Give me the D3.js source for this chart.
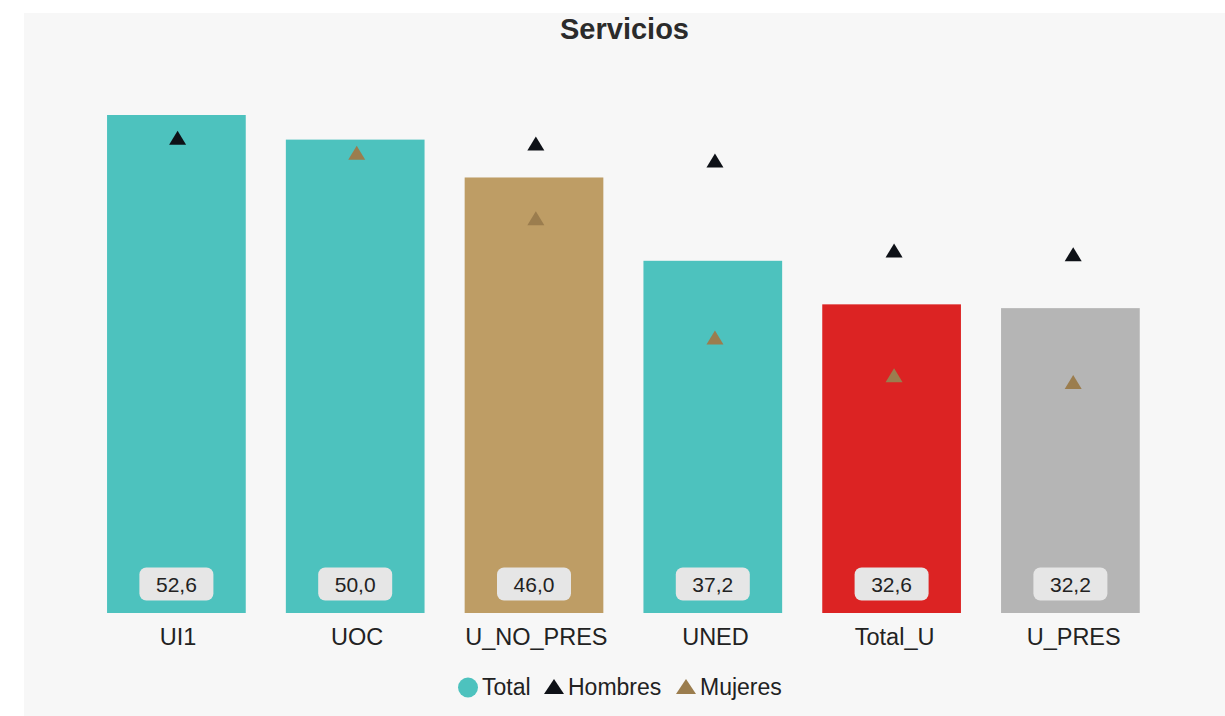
<!DOCTYPE html>
<html>
<head>
<meta charset="utf-8">
<script src="https://cdn.jsdelivr.net/npm/d3@7"></script>
<style>
html,body{margin:0;padding:0;background:#fff;}
svg{display:block;font-family:"Liberation Sans",Arial,sans-serif;}
</style>
</head>
<body>
<svg id="chart" width="1225" height="716"></svg>
<script>
const categories = ["UI1", "UOC", "U_NO_PRES", "UNED", "Total_U", "U_PRES"];
const totalValues = [52.6, 50.0, 46.0, 37.2, 32.6, 32.2];
const hombresValues = [50.2, null, 49.6, 47.8, 38.3, 37.9];
const mujeresValues = [null, 48.6, 41.7, 29.1, 25.1, 24.4];
const barColors = ["#4dc2be", "#4dc2be", "#be9d65", "#4dc2be", "#dc2323", "#b5b5b5"];
const legendLabels = ["Total", "Hombres", "Mujeres"];
const title = "Servicios";

const svg = d3.select("#chart");
const W = 1225, H = 716;

svg.append("rect").attr("x", 24).attr("y", 13).attr("width", W - 24).attr("height", H - 13).attr("fill", "#f7f7f7");

svg.append("text").attr("x", 624.5).attr("y", 38.5).attr("text-anchor", "middle")
  .attr("font-size", 29).attr("font-weight", "bold").attr("fill", "#2b2b2b").text(title);

const x = d3.scaleBand().domain(categories).range([87.0, 1159.8]).paddingInner(0.2243).paddingOuter(0.11215);
const xp = d3.scalePoint().domain(categories).range([177.6, 1073.2]);
const y = d3.scaleLinear().domain([0, 55]).range([613, 613 - 55 * 9.4677]);

const g = svg.append("g");
g.selectAll("rect.bar").data(categories).join("rect").attr("class", "bar")
  .attr("x", d => x(d)).attr("width", x.bandwidth())
  .attr("y", (d, i) => y(totalValues[i])).attr("height", (d, i) => y(0) - y(totalValues[i]))
  .attr("fill", (d, i) => barColors[i]);

// value labels
const lab = g.selectAll("g.lab").data(categories).join("g").attr("class", "lab")
  .attr("transform", d => `translate(${x(d) + x.bandwidth() / 2},${y(0) - 29})`);
lab.append("rect").attr("x", -37).attr("y", -16.5).attr("width", 74).attr("height", 33).attr("rx", 7).attr("fill", "#e6e6e6");
lab.append("text").attr("text-anchor", "middle").attr("y", 7.5).attr("font-size", 21).attr("fill", "#222")
  .text((d, i) => d3.format(".1f")(totalValues[i]).replace(".", ","));

// x axis labels
const xAxis = d3.axisBottom(xp).tickSize(0).tickPadding(0);
const ax = svg.append("g").attr("transform", `translate(0,${y(0)})`).call(xAxis);
ax.select(".domain").remove();
ax.selectAll("text").attr("font-size", 23.5).attr("fill", "#222").attr("font-family", "Liberation Sans, Arial, sans-serif")
  .attr("dy", 0).attr("y", 32);

function tri(w, h) { return `M0,${-h / 2}L${w / 2},${h / 2}L${-w / 2},${h / 2}Z`; }

const hIdx = categories.map((d, i) => i).filter(i => hombresValues[i] != null);
const mIdx = categories.map((d, i) => i).filter(i => mujeresValues[i] != null);
g.selectAll("path.h").data(hIdx).join("path").attr("class", "h")
  .attr("d", tri(17, 14)).attr("fill", "#0e1117")
  .attr("transform", i => `translate(${xp(categories[i])},${y(hombresValues[i])})`);
g.selectAll("path.m").data(mIdx).join("path").attr("class", "m")
  .attr("d", tri(17, 14)).attr("fill", "#9b7d4e")
  .attr("transform", i => `translate(${xp(categories[i])},${y(mujeresValues[i])})`);

// legend
const leg = svg.append("g").attr("font-size", 23).attr("fill", "#222");
const items = [
  {label: legendLabels[0], shape: "circle", color: "#4dc2be", x: 458},
  {label: legendLabels[1], shape: "tri", color: "#0e1117", x: 544},
  {label: legendLabels[2], shape: "tri", color: "#9b7d4e", x: 676}
];
items.forEach(it => {
  if (it.shape === "circle") {
    leg.append("circle").attr("cx", it.x + 10).attr("cy", 687.5).attr("r", 10).attr("fill", it.color);
  } else {
    leg.append("path").attr("d", tri(20, 15)).attr("fill", it.color).attr("transform", `translate(${it.x + 10},686.5)`);
  }
  leg.append("text").attr("x", it.x + 24).attr("y", 695).attr("fill", "#222").text(it.label);
});
</script>
</body>
</html>
